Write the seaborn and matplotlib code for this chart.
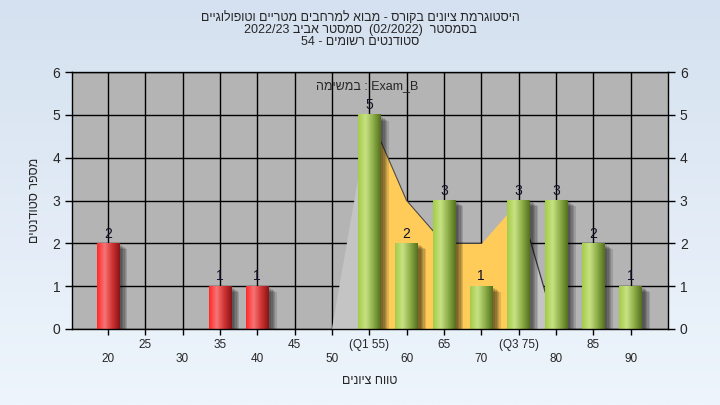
import re

import matplotlib
matplotlib.use("Agg")
import matplotlib.pyplot as plt
import matplotlib.patheffects as pe
import numpy as np
import pandas as pd
import seaborn as sns
from matplotlib.colors import LinearSegmentedColormap

# histogram data
grades = [20, 35, 40, 55, 60, 65, 70, 75, 80, 85, 90]
counts = [2, 1, 1, 5, 2, 3, 1, 3, 3, 2, 1]
status = ["fail", "fail", "fail", "pass", "pass", "pass", "pass", "pass", "pass", "pass", "pass"]

# background distribution polygon
curve_x = [50, 55, 60, 65, 70, 75, 80]
curve_y = [0, 5, 3, 2, 2, 3, 0]
q1, q3 = 55, 75

tick_values = [20, 25, 30, 35, 40, 45, 50, 55, 60, 65, 70, 75, 80, 85, 90]
tick_names = ["20", "25", "30", "35", "40", "45", "50", "(Q1 55)", "60", "65",
              "70", "(Q3 75)", "80", "85", "90"]

title_lines = [
    "היסטוגרמת ציונים בקורס - מבוא למרחבים מטריים וטופולוגיים",
    "בסמסטר  (02/2022)  סמסטר אביב 2022/23",
    "סטודנטים רשומים - 54",
]
task_word = "במשימה"
task_name = "Exam_B"
x_title = "טווח ציונים"
y_title = "מספר סטודנטים"


def heb(s):
    # crude logical -> visual order for right-to-left text
    r = s[::-1]
    r = re.sub(r"[A-Za-z0-9_/.]+", lambda m: m.group(0)[::-1], r)
    return r.translate(str.maketrans("()", ")("))


sns.set_style("white")
plt.rcParams["font.family"] = ["Liberation Sans", "DejaVu Sans"]

fig = plt.figure(figsize=(7.2, 4.05), dpi=100)

bg = fig.add_axes([0, 0, 1, 1], zorder=-10)
bg.imshow(np.linspace(0, 1, 256).reshape(-1, 1), aspect="auto", extent=[0, 1, 0, 1],
          cmap=LinearSegmentedColormap.from_list("bg", ["#D5E1F0", "#EEF5FC"]))
bg.axis("off")

ax = fig.add_axes([72 / 720, 1 - 329 / 405, 596 / 720, 257 / 405])
ax.set_facecolor("#B4B4B4")
ax.set_axisbelow(True)
ax.grid(True, color="black", linewidth=1)

cx = np.array(curve_x)
ax.fill_between(curve_x, curve_y, where=(cx >= q1) & (cx <= q3),
                color="#FFCC5A", linewidth=0, zorder=0.8)
ax.fill_between(curve_x, curve_y, where=(cx <= q1) | (cx >= q3),
                color="#C4C4C4", linewidth=0, zorder=0.8)
# outline only where the reference shows it
ax.plot(curve_x[1:5], curve_y[1:5], color="#4A4A4A", linewidth=0.8, zorder=0.9)
ax.plot(curve_x[5:], curve_y[5:], color="#3A3A3A", linewidth=0.9, zorder=0.9)

df = pd.DataFrame({"grade": grades, "count": counts, "status": status})
sns.barplot(data=df, x="grade", y="count", hue="status", native_scale=True,
            palette={"fail": "#E82020", "pass": "#98C040"}, width=0.6,
            dodge=False, saturation=1, legend=False, linewidth=0, ax=ax)

cmaps = {
    "fail": LinearSegmentedColormap.from_list(
        "r", ["#FF2A2A", "#F87474", "#D03434", "#8A1414"]),
    "pass": LinearSegmentedColormap.from_list(
        "g", ["#A4CC48", "#C8E284", "#8CAE48", "#55701E"]),
}
grad = np.linspace(0, 1, 64).reshape(1, -1)
# soft drop shadow built from a few faint offset copies
shadow = [pe.SimplePatchShadow(offset=(o, -o * 0.7), shadow_rgbFace="black", alpha=0.13)
          for o in (6, 5, 4, 3, 2)] + [pe.Normal()]
for container, level in zip(ax.containers, ["fail", "pass"]):
    for patch in container:
        patch.set_zorder(2)
        patch.set_path_effects(shadow)
        b = patch.get_bbox()
        ax.imshow(grad, extent=[b.x0, b.x1, b.y0, b.y1], aspect="auto",
                  cmap=cmaps[level], clip_path=patch, zorder=2.1)
    ax.bar_label(container, padding=2, fontsize=10, color="#101028")

ax.set_xlim(15.2, 95)
ax.set_ylim(0, 6)
ax.set_xticks(tick_values)
ax.set_xticklabels([("\n" + n) if v % 10 == 0 else n
                    for v, n in zip(tick_values, tick_names)], fontsize=8.5)
ax.set_yticks(range(7))
ax.tick_params(axis="y", labelsize=10, direction="out", length=5, width=1,
               left=True, right=True, labelright=True, color="black")
ax.tick_params(axis="x", direction="out", length=4, width=1, bottom=True,
               color="black", pad=3)
for s in ax.spines.values():
    s.set_color("black")
    s.set_linewidth(1)

ax.set_xlabel(heb(x_title), fontsize=9, va="center")
ax.xaxis.set_label_coords(0.5, -(381 - 329) / 257)
ax.set_ylabel(heb(y_title), fontsize=9, va="center")
ax.yaxis.set_label_coords(-(72 - 35) / 596, 0.5)

ax.text((367 - 72) / 596, (329 - 86) / 257, heb(task_word) + " : " + task_name,
        transform=ax.transAxes, ha="center", va="center", fontsize=9, zorder=5)

for i, line in enumerate(title_lines):
    fig.text(0.5, 1 - (18 + 12 * i) / 405, heb(line), ha="center", va="center",
             fontsize=9)

fig.savefig("out.png", dpi=100)
